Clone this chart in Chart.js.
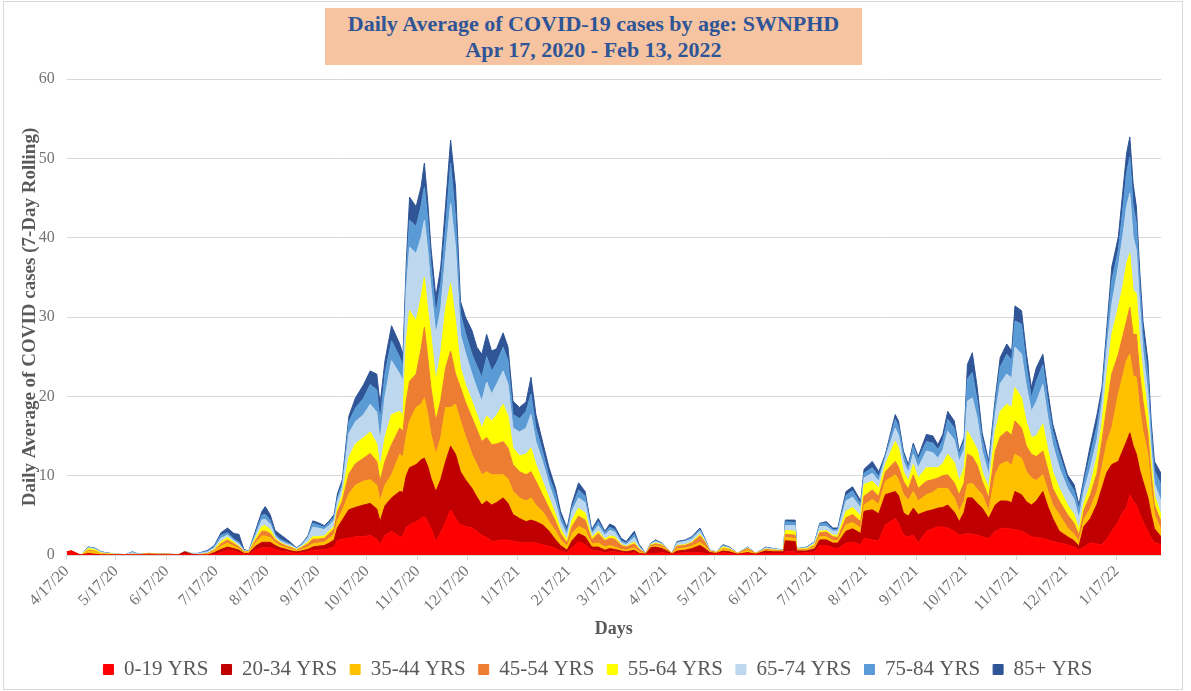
<!DOCTYPE html>
<html>
<head>
<meta charset="utf-8">
<title>Daily Average of COVID-19 cases by age: SWNPHD</title>
<script src="https://cdn.jsdelivr.net/npm/chart.js@4.4.1/dist/chart.umd.min.js"></script>
<style>
  html, body { margin: 0; padding: 0; background: #fff; }
  #wrap { position: relative; width: 1191px; height: 691px; }
  #frame { position: absolute; left: 3px; top: 1px; width: 1180px; height: 689px; box-sizing: border-box; border: 1px solid #d9d9d9; }
  #chart { position: absolute; left: 0; top: 0; }
  #title {
    position: absolute; left: 325px; top: 8px; width: 537px; height: 57px;
    background: #f6c4a1; color: #2f5597; text-align: center;
    font: bold 22px 'Liberation Serif', 'Times New Roman', serif; line-height: 26px;
    padding-top: 3px; box-sizing: border-box; z-index: 2;
  }
</style>
</head>
<body>
<div id="wrap">
  <div id="frame"></div>
  <canvas id="chart" width="1191" height="691"></canvas>
  <div id="title">Daily Average of COVID-19 cases by age: SWNPHD<br>Apr 17, 2020 - Feb 13, 2022</div>
</div>
<script>
// days since 4/17/2020
const days = [
  0,3,7,9,13,17,21,25,30,36,
  40,44,50,56,62,68,72,76,80,86,
  90,94,98,102,105,108,111,115,119,121,
  124,127,130,134,137,140,143,147,150,153,
  157,160,163,165,168,172,176,181,185,189,
  191,194,198,203,205,207,209,213,216,218,
  220,222,225,228,231,234,237,240,243,247,
  250,253,256,259,262,266,269,272,276,280,
  283,286,290,294,298,301,305,308,312,316,
  320,324,328,331,334,338,341,346,349,353,
  356,359,363,366,369,372,377,381,386,389,
  392,396,400,404,409,415,420,426,431,437,
  438,444,445,451,456,459,463,467,470,475,
  479,484,486,491,495,499,505,507,510,513,
  516,519,524,528,531,534,537,541,544,547,
  549,552,555,558,562,566,569,573,576,578,
  582,585,588,591,595,598,601,605,610,614,
  617,620,624,628,631,634,637,641,644,646,
  648,650,652,654,656,659,661,663,667
];

const age0to19 = [
  0.4,0.5,0.1,0,0.1,0,0,0,0,0,
  0,0,0,0,0,0,0.1,0,0,0,
  0.1,0.3,0.6,0.5,0.3,0.1,0.1,0.6,0.9,0.9,
  0.9,0.7,0.5,0.4,0.3,0.2,0.3,0.4,0.6,0.6,
  0.7,0.8,1.0,1.8,2.0,2.1,2.3,2.3,2.5,2.0,
  1.3,2.5,3.0,2.3,2.4,3.5,3.8,4.2,4.6,4.9,
  4.2,3.4,1.7,2.8,4.2,5.7,4.6,3.8,3.6,3.4,
  3.0,2.5,2.2,1.7,1.8,1.9,1.9,1.7,1.6,1.5,
  1.6,1.5,1.3,1.1,0.8,0.5,0.3,0.9,1.7,1.3,
  0.6,0.5,0.3,0.4,0.4,0.3,0.2,0.3,0.1,0.05,
  0.2,0.2,0.3,0.2,0.05,0.2,0.3,0.3,0.3,0.2,
  0.1,0.1,0.3,0.2,0.05,0.2,0.05,0.2,0.2,0.2,
  0.4,0.4,0.2,0.3,0.4,1.2,1.2,0.9,0.8,1.5,
  1.6,1.3,2.1,1.9,1.8,3.8,4.6,4.0,2.5,2.3,
  2.5,1.5,3.0,3.3,3.6,3.5,3.4,3.0,2.5,2.6,
  2.7,2.6,2.5,2.3,2.1,3.0,3.3,3.4,3.2,3.2,
  3.0,2.7,2.3,2.2,2.1,1.9,1.7,1.5,1.3,1.0,
  0.6,1.0,1.5,1.4,1.3,2.0,3.0,4.2,5.5,5.9,
  7.6,6.8,6.3,5.2,4.2,3.0,2.1,1.6,1.3
];
const age20to34 = [
  0,0,0,0,0.1,0.1,0,0,0,0,
  0,0,0,0,0,0,0.3,0.1,0,0,
  0.2,0.4,0.4,0.3,0.3,0.1,0.1,0.5,0.7,0.7,
  0.7,0.5,0.4,0.3,0.2,0.2,0.2,0.3,0.4,0.5,
  0.5,0.7,0.9,1.6,2.4,3.6,3.7,4.0,4.0,3.8,
  2.9,3.7,4.2,5.7,5.5,6.5,7.2,7.2,7.4,7.3,
  7.0,6.3,6.3,6.7,7.6,8.0,8.1,6.7,5.9,5.0,
  4.3,3.8,4.6,4.6,4.8,5.3,4.6,3.4,3.0,2.7,
  2.8,2.7,2.5,1.9,1.1,0.7,0.3,0.9,1.0,1.0,
  0.4,0.5,0.3,0.4,0.3,0.2,0.2,0.3,0.1,0.05,
  0.7,0.8,0.5,0.3,0.05,0.3,0.3,0.5,0.9,0.6,
  0.2,0.1,0.2,0.2,0.05,0.1,0.05,0.3,0.2,0.2,
  1.4,1.3,0.3,0.2,0.4,0.7,0.7,0.6,0.7,1.5,
  1.7,1.4,3.4,3.8,3.4,3.8,3.4,3.5,2.8,2.6,
  3.4,3.6,2.5,2.4,2.3,2.5,2.9,2.4,1.7,2.8,
  4.5,4.6,4.0,3.6,2.5,3.3,3.5,3.4,3.4,4.8,
  4.6,4.0,4.0,4.6,5.9,4.2,2.9,1.5,1.0,0.8,
  0.5,2.6,3.1,5.0,7.1,8.4,8.4,7.6,7.8,8.4,
  7.8,7.0,6.4,5.5,5.1,4.2,3.0,1.7,1.0
];
const age35to44 = [
  0,0,0,0,0.3,0.3,0.1,0.05,0.05,0,
  0,0,0,0,0.1,0,0,0,0,0.1,
  0.2,0.4,0.5,0.3,0.2,0.1,0.1,0.4,0.8,0.8,
  0.6,0.4,0.3,0.2,0.2,0.1,0.2,0.3,0.4,0.4,
  0.4,0.6,0.7,1.0,1.2,2.0,2.8,3.0,3.0,3.0,
  2.6,2.6,2.9,4.7,4.5,5.0,5.9,7.2,7.0,7.6,
  6.6,5.5,4.7,5.3,6.8,4.9,6.3,6.4,5.5,4.3,
  4.1,3.8,3.7,3.8,3.5,2.9,3.1,2.9,2.6,2.6,
  2.8,2.1,1.7,1.2,1.1,0.7,0.5,0.9,0.9,0.9,
  0.4,0.5,0.4,0.4,0.3,0.2,0.2,0.3,0.2,0,
  0.1,0.2,0.2,0.1,0.05,0.3,0.3,0.3,0.4,0.3,
  0.1,0.05,0.2,0.2,0.05,0.3,0.05,0.1,0.1,0.05,
  0.4,0.4,0.1,0.1,0.2,0.4,0.4,0.3,0.3,0.8,
  0.8,0.7,0.8,1.3,1.2,1.7,2.1,2.0,2.3,2.0,
  2.1,1.7,2.1,2.2,2.5,2.4,2.1,1.8,1.3,1.4,
  1.7,1.8,1.8,1.7,0.9,3.8,4.6,5.0,4.7,4.7,
  4.6,3.8,3.4,2.6,2.1,2.0,1.7,2.1,1.1,0.8,
  0.6,0.9,1.3,1.6,2.6,3.8,4.6,8.5,9.5,10.2,
  9.9,8.8,9.7,7.7,6.3,5.5,3.3,1.8,0.9
];
const age45to54 = [
  0,0,0,0,0.1,0.1,0.05,0.05,0,0,
  0.1,0.05,0.2,0.1,0,0,0,0,0,0.1,
  0.1,0.3,0.4,0.3,0.2,0.1,0.05,0.3,0.6,0.6,
  0.5,0.3,0.3,0.2,0.2,0.1,0.2,0.4,0.6,0.5,
  0.5,0.6,0.7,1.0,1.2,2.5,2.7,2.9,3.3,3.0,
  2.5,3.0,3.8,3.3,3.2,4.5,5.0,4.2,7.0,8.9,
  7.2,5.9,4.2,4.7,5.0,7.1,3.8,4.2,4.3,4.6,
  4.4,4.2,4.3,3.8,3.9,4.2,3.9,3.4,3.3,3.3,
  3.3,3.0,2.1,1.7,1.2,0.8,0.4,0.9,1.3,1.2,
  0.5,1.2,0.8,0.9,1.0,0.5,0.4,0.5,0.3,0.05,
  0.2,0.2,0.2,0.1,0.05,0.3,0.3,0.4,0.8,0.5,
  0.1,0.05,0.1,0.1,0.05,0.2,0.05,0.1,0.1,0.05,
  0.4,0.4,0.1,0.1,0.2,0.5,0.6,0.5,0.4,0.9,
  1.0,0.8,1.1,1.2,1.0,1.2,1.7,1.6,1.7,1.4,
  2.1,1.6,1.7,1.6,1.3,1.6,1.7,1.9,2.1,2.3,
  3.8,3.4,3.0,1.7,1.7,3.0,3.5,3.8,3.8,4.2,
  3.8,3.2,3.0,3.0,3.0,2.7,2.1,1.7,1.7,1.4,
  0.8,1.1,1.7,2.3,3.3,4.5,6.8,5.0,5.0,5.0,
  5.9,5.2,5.4,4.5,3.8,2.5,1.7,1.2,1.0
];
const age55to64 = [
  0,0,0,0,0.2,0.2,0.1,0.05,0.05,0,
  0,0,0,0,0,0,0,0,0,0,
  0.1,0.3,0.3,0.2,0.1,0.05,0.05,0.3,0.6,0.7,
  0.5,0.2,0.1,0.1,0.1,0.1,0.1,0.2,0.3,0.3,
  0.3,0.3,0.3,0.5,0.8,2.1,2.5,2.6,2.7,2.2,
  1.7,3.0,3.8,2.1,2.0,7.5,8.9,6.7,6.5,6.3,
  6.0,6.7,5.0,6.0,7.6,8.5,6.7,2.5,2.2,2.1,
  1.9,1.7,2.7,3.0,3.6,4.7,4.0,2.1,2.0,2.6,
  3.0,2.1,1.7,1.3,0.9,0.6,0.4,0.8,1.0,0.9,
  0.3,0.3,0.2,0.3,0.3,0.1,0.1,0.2,0.1,0,
  0.1,0.1,0.1,0.05,0,0.1,0.1,0.1,0.2,0.1,
  0,0.05,0.2,0.1,0,0.05,0,0.05,0.05,0.05,
  0.5,0.5,0.05,0.1,0.2,0.2,0.2,0.2,0.3,0.8,
  0.9,0.7,1.5,1.1,1.0,0.9,2.5,2.4,1.2,1.0,
  1.3,1.3,1.7,1.5,1.3,1.5,2.6,2.6,1.7,1.9,
  2.9,2.1,2.0,1.2,1.2,2.5,3.2,3.4,3.5,4.2,
  3.8,3.0,2.1,2.6,3.4,2.5,2.1,1.6,1.2,1.1,
  0.7,0.9,1.3,2.1,2.2,4.0,5.0,5.9,6.3,7.2,
  6.8,5.6,5.1,4.0,3.4,2.5,1.7,1.2,0.9
];
const age65to74 = [
  0,0,0,0,0.1,0.1,0.1,0.05,0,0.05,
  0.2,0.05,0,0.05,0,0.05,0.05,0.1,0.15,0.2,
  0.2,0.4,0.3,0.2,0.3,0.1,0.05,0.3,0.8,0.8,
  0.7,0.3,0.2,0.2,0.2,0.1,0.2,0.5,1.2,1.1,
  0.8,0.7,0.8,0.8,0.9,3.0,2.8,2.9,3.5,4.0,
  3.3,5.2,6.8,4.7,4.3,6.5,8.0,8.5,7.5,7.2,
  7.5,6.0,5.9,5.5,6.8,10.1,9.3,4.2,4.0,3.4,
  3.3,3.4,4.3,3.4,3.9,4.2,4.0,2.5,3.0,3.3,
  4.2,2.9,2.5,1.7,1.4,0.9,0.6,1.1,1.3,1.3,
  0.4,0.7,0.5,0.7,0.6,0.3,0.2,0.6,0.2,0.05,
  0.1,0.2,0.1,0.05,0,0.3,0.4,0.4,0.4,0.2,
  0.1,0.05,0.1,0.1,0,0.1,0,0.15,0.1,0.05,
  0.6,0.7,0.05,0.1,0.2,0.6,0.5,0.5,0.5,1.3,
  1.3,1.0,0.8,1.0,0.9,0.8,1.7,1.6,1.3,1.1,
  1.3,1.3,2.1,1.9,1.2,1.7,2.9,2.8,2.5,2.3,
  3.8,5.3,3.9,2.6,1.7,2.1,3.5,3.8,3.7,5.1,
  5.5,4.5,3.3,4.3,5.0,4.0,3.4,2.6,2.1,1.9,
  1.4,1.5,2.1,2.1,2.5,3.2,3.8,5.1,6.5,7.2,
  7.6,6.7,5.5,4.5,2.9,2.6,1.7,1.5,1.7
];
const age75to84 = [
  0,0,0,0,0.1,0.1,0.05,0.05,0,0,
  0.1,0,0,0,0,0,0,0,0.05,0.1,
  0.2,0.4,0.3,0.2,0.2,0.05,0.05,0.3,0.6,0.6,
  0.5,0.2,0.2,0.2,0.1,0.05,0.1,0.2,0.5,0.4,
  0.3,0.4,0.4,0.5,0.5,1.5,1.7,2.1,2.5,2.8,
  2.6,2.8,2.5,2.1,1.9,2.0,3.4,3.4,4.0,4.2,
  4.0,2.9,2.6,3.3,3.4,5.1,3.8,2.6,2.5,2.5,
  2.8,3.0,3.2,2.9,2.7,3.0,3.0,1.7,1.7,2.1,
  2.6,1.7,1.3,1.0,1.1,0.7,0.5,0.5,1.0,0.8,
  0.3,0.5,0.3,0.4,0.3,0.2,0.2,0.4,0.1,0,
  0.05,0.1,0.05,0,0,0.1,0.1,0.2,0.2,0.1,
  0,0,0.1,0.05,0,0.05,0,0.05,0.05,0,
  0.5,0.4,0,0.05,0.05,0.3,0.4,0.2,0.2,0.7,
  0.8,0.5,0.6,0.7,0.6,0.3,1.1,1.1,0.9,0.6,
  1.0,1.0,1.2,1.2,1.1,1.2,1.5,1.5,0.9,1.0,
  2.8,3.2,2.2,1.5,1.1,1.3,2.1,2.5,2.3,3.3,
  3.8,2.6,1.7,2.6,2.5,2.1,1.7,1.7,1.1,1.1,
  1.1,1.1,1.7,1.8,1.3,1.6,3.0,2.1,3.5,4.2,
  4.6,4.0,3.4,2.8,2.1,2.5,2.1,1.6,2.1
];
const age85plus = [
  0,0,0,0,0,0,0,0,0,0,
  0,0,0,0,0,0,0,0,0,0.1,
  0.1,0.3,0.6,0.7,1.0,0.1,0,0.3,0.5,1.0,
  0.7,0.5,0.6,0.4,0.2,0.05,0.05,0.1,0.3,0.3,
  0.2,0.2,0.3,0.5,0.5,0.7,1.3,1.7,1.7,2.0,
  2.1,1.7,1.9,1.7,1.5,1.5,2.9,2.5,2.4,3.0,
  2.2,2.1,2.1,2.0,2.9,2.9,3.8,1.6,2.0,3.0,
  2.4,2.9,2.8,2.5,1.8,1.8,1.7,1.7,1.4,1.2,
  2.1,1.7,1.2,1.1,0.8,0.6,0.4,0.5,0.9,0.6,
  0.3,0.4,0.2,0.4,0.4,0.3,0.2,0.4,0.2,0,
  0.05,0.1,0.05,0,0,0.1,0.1,0.1,0.2,0.1,
  0,0,0.1,0.05,0,0,0,0.05,0,0,
  0.2,0.3,0,0.05,0.05,0.1,0.2,0.2,0.2,0.5,
  0.5,0.4,0.5,0.8,0.6,0.2,0.6,0.7,0.4,0.4,
  0.4,0.4,0.9,0.9,0.6,0.8,1.0,0.9,0.4,0.5,
  1.8,2.5,1.7,0.8,0.6,0.8,1.2,1.3,1.1,1.9,
  1.7,1.5,1.3,1.7,1.3,1.3,0.9,0.8,0.6,0.8,
  0.6,0.6,1.2,1.4,0.8,1.2,1.7,1.7,2.3,2.5,
  2.5,2.7,2.1,1.7,1.7,1.7,1.3,1.2,1.4
];

const seriesNames = ['0-19 YRS', '20-34 YRS', '35-44 YRS', '45-54 YRS', '55-64 YRS', '65-74 YRS', '75-84 YRS', '85+ YRS'];
const seriesValues = [age0to19, age20to34, age35to44, age45to54, age55to64, age65to74, age75to84, age85plus];
const seriesColors = ['#ff0000', '#c00000', '#ffc000', '#ed7d31', '#ffff00', '#bdd7ee', '#5b9bd5', '#2f5597'];

// x axis ticks: the 17th of each month
const tickDays = [0, 30, 61, 91, 122, 153, 183, 214, 244, 275, 306, 334, 365, 395, 426, 456, 487, 518, 548, 579, 609, 640];
const tickLabels = ['4/17/20', '5/17/20', '6/17/20', '7/17/20', '8/17/20', '9/17/20', '10/17/20', '11/17/20', '12/17/20',
  '1/17/21', '2/17/21', '3/17/21', '4/17/21', '5/17/21', '6/17/21', '7/17/21', '8/17/21', '9/17/21', '10/17/21',
  '11/17/21', '12/17/21', '1/17/22'];
const yTicks = [0, 10, 20, 30, 40, 50, 60];

const serif = "'Liberation Serif', 'Times New Roman', serif";

const datasets = seriesNames.map((name, k) => ({
    label: name,
    data: days.map((d, i) => ({ x: d, y: seriesValues[k][i] })),
    backgroundColor: seriesColors[k],
    borderColor: seriesColors[k],
    borderWidth: 1,
    pointRadius: 0,
    tension: 0,
    fill: k === 0 ? 'origin' : '-1'
}));

const ctx = document.getElementById('chart').getContext('2d');
new Chart(ctx, {
    type: 'line',
    data: { datasets },
    options: {
        responsive: false,
        animation: false,
        // left padding is wide so the bottom legend centres where the original does
        layout: { padding: { top: 79, left: 35, right: 30, bottom: 1 } },
        plugins: {
            legend: {
                position: 'bottom',
                labels: {
                    boxWidth: 10,
                    boxHeight: 10,
                    padding: 13,
                    color: '#595959',
                    font: { family: serif, size: 21 }
                }
            },
            tooltip: { enabled: false }
        },
        scales: {
            x: {
                type: 'linear',
                min: 0,
                max: 667,
                afterBuildTicks: (scale) => { scale.ticks = tickDays.map(v => ({ value: v })); },
                afterFit: (scale) => { scale.height = 91; },
                ticks: {
                    autoSkip: false,
                    minRotation: 45,
                    maxRotation: 45,
                    padding: 2,
                    color: '#737373',
                    font: { family: serif, size: 16 },
                    callback: (value, index) => tickLabels[index]
                },
                grid: { drawOnChartArea: false, tickLength: 5, color: '#d9d9d9' },
                border: { color: '#d9d9d9' },
                title: {
                    display: true,
                    text: 'Days',
                    color: '#595959',
                    font: { family: serif, size: 18, weight: 'bold' },
                    padding: { top: 0, bottom: 6 }
                }
            },
            y: {
                stacked: true,
                min: 0,
                max: 60,
                afterBuildTicks: (scale) => { scale.ticks = yTicks.map(v => ({ value: v })); },
                afterFit: (scale) => { scale.width = 31.7; },
                ticks: {
                    padding: 12,
                    color: '#737373',
                    font: { family: serif, size: 16 }
                },
                grid: { color: '#d9d9d9', drawTicks: false },
                border: { display: false },
                title: {
                    display: true,
                    text: 'Daily Average of COVID cases (7-Day Rolling)',
                    color: '#595959',
                    font: { family: serif, size: 19, weight: 'bold' },
                    padding: { top: -16, bottom: 0 }
                }
            }
        }
    }
});
</script>
</body>
</html>
